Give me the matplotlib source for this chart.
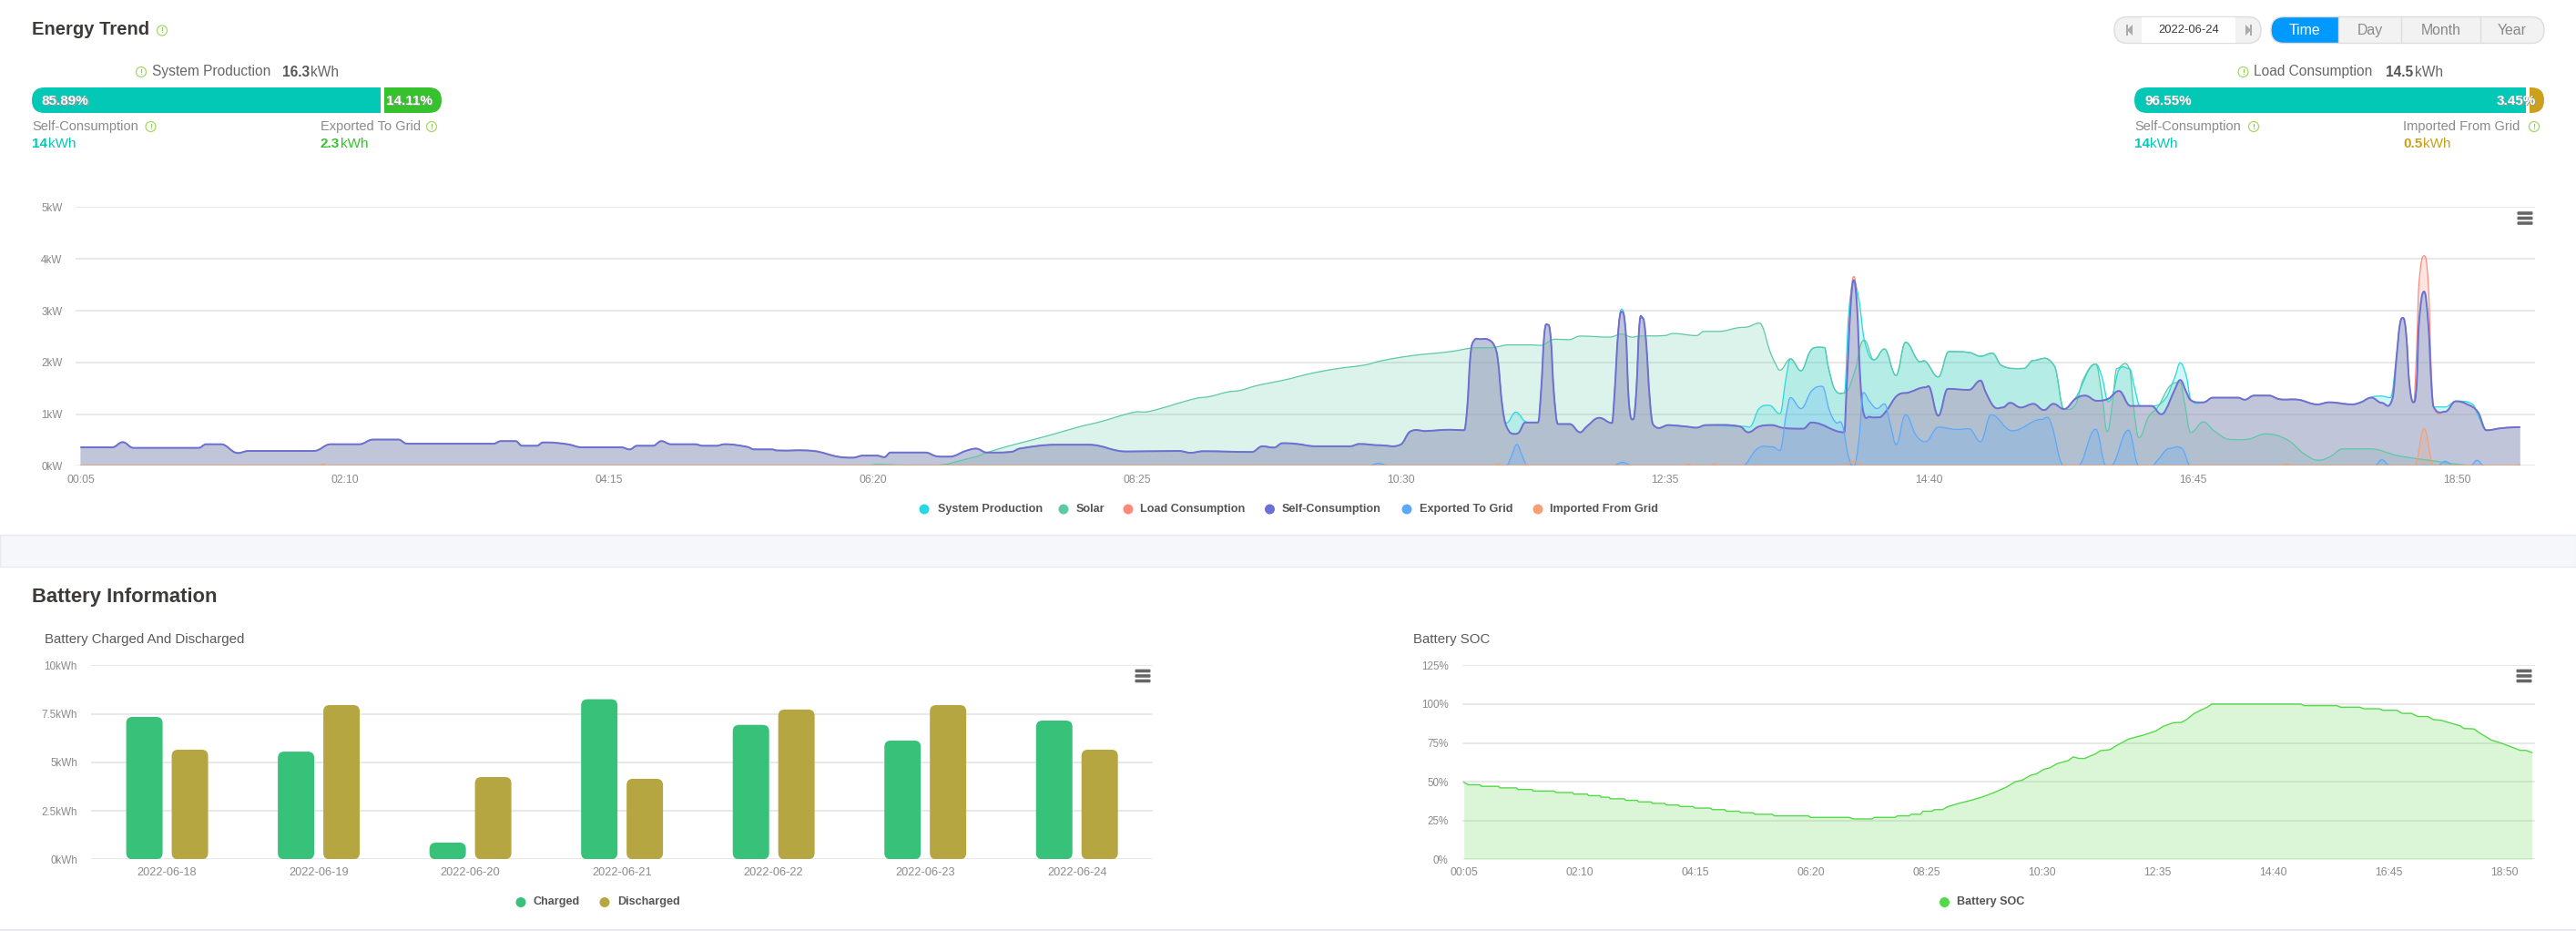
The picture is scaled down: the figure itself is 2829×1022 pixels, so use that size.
import matplotlib
matplotlib.use('Agg')
import matplotlib.pyplot as plt
from matplotlib.patches import Circle, FancyBboxPatch, PathPatch, Polygon, Rectangle
from matplotlib.path import Path

plt.rcParams['font.family'] = ['Liberation Sans', 'DejaVu Sans']

W, H = 2829, 1022

# one slot = 5 minutes, slot 0 = 00:05. (slot, kW)
self_pts = [(0,.36),(3,.36),(4,.46),(5,.35),(11.2,.35),(11.9,.42),(13.3,.42),(14.9,.25),(15.9,.29),(22.1,.29),
    (23.7,.42),(26.4,.42),(27.7,.51),(30.1,.51),(30.9,.43),(39.1,.43),(39.8,.48),(41.2,.48),(41.8,.39),(43.2,.39),
    (43.8,.455),(44.1,.455),(46.1,.42),(47.5,.36),(51.2,.36),(52,.32),(52.7,.39),(54.2,.39),(55,.48),(55.9,.42),
    (58.2,.42),(58.9,.39),(60.2,.39),(61,.42),(63.1,.37),(63.8,.32),(65.5,.32),(65.9,.30),(69.4,.29),(71.7,.18),
    (73.1,.16),(74.1,.20),(75.4,.20),(76.1,.17),(76.7,.26),(80,.26),(81,.19),(82.3,.18),(83.8,.29),(84.8,.335),
    (85.8,.26),(88.2,.275),(88.9,.335),(92.4,.41),(95.5,.41),(99,.28),(104,.29),(105.1,.255),(106.3,.285),(110.9,.27),
    (111.9,.38),(113,.355),(113.8,.44),(115,.43),(117,.38),(120.2,.38),(121.1,.425),(123.1,.40),(125,.415),(125.9,.665),
    (127.4,.675),(129.7,.70),(131,.69),(131.3,1.13),(131.6,2.13),(131.9,2.41),(132.5,2.45),(133.3,2.44),(133.9,2.31),
    (134.2,2.05),(134.6,1.19),(135,.77),(135.8,.62),(136.2,.65),(136.8,.84),(138,.84),(138.3,1.48),(138.6,2.55),
    (138.9,2.73),(139.2,2.49),(139.5,1.42),(139.9,.81),(141,.81),(142,.65),(142.6,.76),(143.8,.93),(145,.83),
    (145.2,1.245),(145.6,2.61),(145.9,2.98),(146.3,2.61),(146.6,1.245),(147,.90),(147.3,1.42),(147.6,2.73),(147.9,2.86),
    (148.2,2.49),(148.6,1.245),(148.9,.80),(150.4,.79),(152.1,.76),(153,.74),(153.9,.79),(157.1,.765),(157.9,.65),
    (158.9,.76),(160.1,.79),(161.2,.735),(163.1,.72),(163.9,.84),(167,.65),(167.2,1.42),(167.6,3.08),(167.9,3.59),
    (168.2,3.08),(168.5,1.72),(168.8,1.04),(169.4,.95),(170.3,.94),(171,1.07),(172,1.36),(173.1,1.42),(174.7,1.52),
    (175.1,1.51),(175.9,.97),(176.8,1.49),(178.8,1.47),(179.9,1.65),(180.4,1.42),(181.2,1.14),(182,1.13),(182.7,1.22),
    (183.7,1.13),(184.9,1.20),(185.9,1.08),(186.8,1.20),(187.8,1.10),(188.9,1.30),(189.8,1.36),(190.9,1.26),(192,1.30),
    (193,1.45),(194.1,1.16),(196.1,1.16),(197,1.0),(197.4,1.07),(198.3,1.48),(198.8,1.66),(199.4,1.42),(199.8,1.27),
    (201,1.23),(201.9,1.32),(204.3,1.32),(204.9,1.28),(205.8,1.36),(207.2,1.36),(208.2,1.29),(210,1.28),(211.8,1.19),
    (212.9,1.23),(215.1,1.19),(215.9,1.23),(216.9,1.32),(217.9,1.22),(218.9,1.30),(219.3,2.13),(219.6,2.73),(219.9,2.86),
    (220.2,2.55),(220.5,1.60),(220.9,1.23),(221.2,1.60),(221.4,2.73),(221.9,3.37),(222.3,2.73),(222.6,1.54),(222.8,1.14),
    (223.9,1.05),(224.9,1.25),(226,1.19),(227,1.04),(227.8,.69),(229.2,.73),(231,.75)]

solar_pts = [(0,0),(74,0),(75.5,.03),(77,.02),(80.5,.01),(84.8,.18),(85.7,.25),(87.8,.38),(88.9,.44),(91.7,.59),(94.8,.77),
    (96.3,.84),(99.8,1.04),(101.1,1.05),(105.5,1.30),(107,1.345),(108.6,1.43),(109.8,1.46),(111.3,1.55),(113,1.62),
    (114.6,1.69),(116.1,1.77),(118.8,1.875),(121.7,1.955),(123.1,2.03),(126,2.13),(129.7,2.21),(131.8,2.28),(133.8,2.29),
    (135.2,2.34),(137.5,2.34),(138.2,2.33),(139.6,2.45),(140.9,2.44),(142,2.51),(144.8,2.49),(145.9,2.55),(146.9,2.49),
    (147.6,2.51),(150,2.52),(150.8,2.56),(153,2.52),(153.7,2.60),(155.1,2.60),(156.9,2.67),(157.9,2.69),(158.9,2.76),
    (159.3,2.67),(159.9,2.25),(160.5,1.97),(160.9,1.85),(161.9,2.07),(162.9,1.84),(163.7,2.19),(164.1,2.28),(165.1,2.29),
    (165.5,1.90),(166.1,1.48),(167,1.41),(168.1,1.90),(168.5,2.31),(168.9,2.43),(169.8,2.05),(170.8,2.26),(171.9,1.75),
    (172.8,2.39),(174,2.03),(174.7,2.02),(175.9,1.72),(176.9,2.21),(178.9,2.19),(179.9,2.12),(181,2.18),(181.9,1.94),
    (184,1.885),(184.9,2.04),(186.9,1.93),(187.8,1.10),(188.9,1.19),(189.6,1.66),(190.8,1.97),(191.4,1.36),(191.9,.66),
    (192.4,1.24),(192.8,1.885),(194,1.88),(194.4,1.13),(194.9,.545),(195.8,.95),(196.7,1.14),(197.8,1.54),(198.8,1.61),
    (199.2,1.245),(199.8,.65),(201,.85),(202,.68),(203.6,.51),(205.3,.52),(206.9,.62),(209,.50),(210.5,.24),(211.9,.11),
    (213,.18),(214.2,.33),(216.8,.33),(219.4,.20),(223.1,.09),(226.3,.01),(231,0)]

exported_pts = [(0,0),(121.9,0),(122.9,.05),(123.9,0),(135,0),(135.5,.2),(136,.415),(136.5,.2),(137,0),(145,0),(146,.07),
    (147,0),(157.3,0),(158.8,.34),(160.2,.37),(160.9,.30),(161.5,1.0),(161.9,1.32),(162.9,1.11),(163.9,1.45),(164.9,1.54),
    (165.6,1.07),(166.2,.84),(166.8,.80),(167.4,.18),(167.9,0),(168.4,.53),(168.8,1.42),(169.4,1.245),(170.1,1.11),
    (170.8,1.20),(171.4,.77),(171.9,.415),(172.8,.99),(173.8,.59),(174.7,.47),(175.9,.75),(177.7,.705),(178.8,.72),
    (179.9,.47),(180.9,.99),(182.9,.68),(185.7,.90),(186.5,.87),(187.8,0),(189.1,0),(190.8,.71),(191.8,0),(192.2,0),
    (193.9,.69),(194.9,0),(196.1,0),(196.7,.12),(197.8,.34),(199,.33),(199.8,0),(217.2,0),(217.9,.12),(218.7,0),(223.1,0),
    (223.9,.09),(224.7,0),(226.3,0),(226.9,.11),(227.6,0),(231,0)]

imported_pts = [(0,.01),(22.5,.01),(23,.03),(23.5,.01),(133.7,.01),(134.2,.03),(134.7,.01),(136.3,.01),(136.8,.03),(137.3,.01),
    (151.8,.01),(152.3,.03),(152.8,.01),(154.2,.01),(154.7,.03),(155.2,.01),(167,.01),(167.9,.09),(168.8,.01),(208.4,.01),
    (208.9,.03),(209.4,.01),(221,.01),(221.9,.72),(222.8,.01),(230.8,.01),(231,.03)]

# load sits under self-consumption, except where grid import lifts it
load_pts = dict(self_pts)
for slot in (167.6, 167.9, 168.2, 221.4, 221.9, 222.3, 222.6):
    del load_pts[slot]
load_pts.update({167.6: 3.2, 167.9: 3.66, 168.2: 3.2, 221.2: 2.31, 221.4: 3.5, 221.9: 4.06, 222.3: 3.5, 222.6: 1.72})
load_pts = sorted(load_pts.items())

system_pts = [p for p in self_pts if p[0] < 134.9] + [(135,.83),(135.9,1.04),(136.8,.86)]
system_pts += [p for p in self_pts if 138 <= p[0] <= 145.6] + [(145.9,3.03)]
system_pts += [p for p in self_pts if 146 <= p[0] <= 157.1]
system_pts += [(157.6,.765),(158.2,.78),(158.9,1.10),(159.9,1.17),(160.9,1.01),(161.5,1.72),(161.9,2.07),(162.9,1.84),
    (163.7,2.19),(164.1,2.28),(165.1,2.29),(165.5,1.90),(166.1,1.48),(167,1.41),(167.4,2.9),(167.9,3.56),(168.4,3.2),
    (168.9,2.43),(169.8,2.05),(170.8,2.26),(171.9,1.75),(172.8,2.39),(174,2.03),(174.7,2.02),(175.9,1.72),(176.9,2.21),
    (178.9,2.19),(179.9,2.12),(181,2.18),(181.9,1.94),(184,1.885),(184.9,2.04),(186.9,1.93),(187.8,1.10),(188.9,1.32),
    (190.8,1.97),(191.4,1.72),(192,1.24),(192.5,1.45),(193,1.86),(194,1.88),(194.5,1.5),(195,1.16),(196.1,1.16),
    (197.4,1.3),(198.3,1.72),(198.8,1.99),(199.4,1.72),(199.8,1.29)]
system_pts += [p for p in self_pts if 201 <= p[0] <= 215.9]
system_pts += [(216.9,1.33),(217.9,1.35),(218.7,1.32)] + [p for p in self_pts if 219.3 <= p[0] <= 222.8]
system_pts += [(223.9,1.14),(224.9,1.25),(226.5,1.19),(227,.98),(227.8,.69),(229.2,.73),(231,.75)]

series = [('System Production', system_pts, '#26D9E0', 0.9),
          ('Solar', solar_pts, '#5CC9A7', 0.9),
          ('Load Consumption', load_pts, '#FF8A7A', 0.9),
          ('Self-Consumption', self_pts, '#6C70D4', 1.4),
          ('Exported To Grid', exported_pts, '#5AA9FF', 0.9),
          ('Imported From Grid', imported_pts, '#F7A072', 0.9)]

days = ['2022-06-18', '2022-06-19', '2022-06-20', '2022-06-21', '2022-06-22', '2022-06-23', '2022-06-24']
charged = [7.34, 5.55, 0.86, 8.25, 6.93, 6.12, 7.15]
discharged = [5.65, 7.95, 4.24, 4.15, 7.72, 7.95, 5.65]

soc_pts = [(0,49.6),(1,48),(3.5,48),(3.8,47),(7.5,47),(7.8,46),(11.4,46),(11.7,45),(14.7,45),(15,44),(19.5,44),(20,43),
    (23.5,43),(23.8,42),(26.7,42),(27,41),(29.4,41),(29.7,40),(31.4,40),(31.7,39),(34.7,39),(35,38),(37.5,38),(37.8,37),
    (40.5,37),(40.8,36),(43.5,36),(43.8,35),(46.4,35),(46.8,34),(49.5,34),(50,33),(53.3,33),(53.8,32),(56.4,32),(56.8,31),
    (59.5,31),(60,30),(62.5,30),(63,29),(66.7,29),(67.2,28),(74.5,28),(75,27),(83.4,27),(84.2,26),(88.3,26),(88.8,27),
    (93.3,27),(93.8,28),(96.3,28),(96.8,29),(98.8,29),(99.3,31),(101.3,31),(101.8,32),(103.5,32),(104.8,34),(107,36),
    (109.7,38),(112,40),(114.7,43),(117.5,46.7),(119.3,50),(120.8,51),(122.5,54),(123.8,55),(125.5,58),(126.8,59),
    (128.3,61.6),(130.8,63.7),(131.8,66),(133,65),(134.3,65),(136.7,68),(137.7,70),(139.7,70.6),(141.3,73.5),(143.8,77.5),
    (147,80),(149.7,82.7),(151.3,85.7),(153.5,88),(155.2,88.2),(156.3,90),(158,94),(159.7,96.5),(160.8,98),(161.8,100),
    (181,100),(181.8,99),(188.8,99),(189.7,98),(193.8,98),(194.7,97),(198,97),(198.8,96),(201.8,96),(203,94),(205,94),
    (206.3,92),(208.5,92),(209.7,90),(211.3,89.6),(215.5,86),(216.3,84.3),(218.5,84),(219.7,81.4),(222.2,76.9),(224.7,74.5),
    (228.5,70.2),(229.7,70.2),(230.8,69),(231,68.8)]

time_labels = ['00:05', '02:10', '04:15', '06:20', '08:25', '10:30', '12:35', '14:40', '16:45', '18:50']
time_ticks = [i * 25 for i in range(10)]

fig = plt.figure(figsize=(W / 100, H / 100), dpi=100, facecolor='white')


def make_axes(left, right, top, bottom):
    ax = fig.add_axes([left / W, 1 - bottom / H, (right - left) / W, (bottom - top) / H])
    ax.patch.set_alpha(0)
    for s in ax.spines.values():
        s.set_visible(False)
    ax.grid(axis='y', color='#E3E3E3', lw=1.1, zorder=0)
    ax.set_axisbelow(True)
    return ax


def style_ticks(ax, ypad, xpad, xsize=8.8):
    ax.tick_params(axis='y', length=0, pad=ypad, labelsize=8.4, labelcolor='#8A8A8A')
    ax.tick_params(axis='x', length=0, pad=xpad, labelsize=xsize, labelcolor='#8A8A8A')


def smooth_curve(pts):
    # bezier vertices through the read points, flat tangent at every local peak or dip
    xs = [p[0] for p in pts]
    ys = [p[1] for p in pts]
    slopes = [0.0] * len(pts)
    for i in range(1, len(pts) - 1):
        if (ys[i] - ys[i - 1]) * (ys[i + 1] - ys[i]) > 0:
            slopes[i] = (ys[i + 1] - ys[i - 1]) / (xs[i + 1] - xs[i - 1])
    verts = [pts[0]]
    for i in range(len(pts) - 1):
        dx = xs[i + 1] - xs[i]
        verts.append((xs[i] + dx * 0.4, ys[i] + slopes[i] * dx * 0.4))
        verts.append((xs[i + 1] - dx * 0.4, ys[i + 1] - slopes[i + 1] * dx * 0.4))
        verts.append(pts[i + 1])
    return verts


def draw_area(ax, pts, color, lw, alpha=0.22):
    verts = smooth_curve(pts)
    line_codes = [Path.MOVETO] + [Path.CURVE4] * (len(verts) - 1)
    fill_verts = [(pts[0][0], 0), verts[0]] + verts[1:] + [(pts[-1][0], 0), (pts[0][0], 0)]
    fill_codes = [Path.MOVETO, Path.LINETO] + [Path.CURVE4] * (len(verts) - 1) + [Path.LINETO, Path.CLOSEPOLY]
    ax.add_patch(PathPatch(Path(fill_verts, fill_codes), fc=color, ec='none', alpha=alpha, zorder=2))
    ax.add_patch(PathPatch(Path(verts, line_codes), fc='none', ec=color, lw=lw, zorder=3, joinstyle='round'))


# page background and text live on a full-figure axes in pixels
ui = fig.add_axes([0, 0, 1, 1], zorder=5)
ui.set_xlim(0, W)
ui.set_ylim(H, 0)
ui.axis('off')
ui.patch.set_alpha(0)
ui.add_patch(Rectangle((0, 587), W, 35, fc='#F5F7FA', ec='#E6EAF0', lw=1))
ui.add_patch(Rectangle((0, 1020), W, 3, fc='#E6EAF0', ec='none'))


def label(x, y, s, size=11, color='#666666', weight='normal', ha='left'):
    return ui.text(x, y, s, fontsize=size, color=color, fontweight=weight, ha=ha, va='center')


def info(x, y):
    ui.add_patch(Circle((x, y), 5.5, fc='white', ec='#A5D868', lw=0.9))
    ui.text(x, y, '!', fontsize=6.5, color='#8CC850', ha='center', va='center', fontweight='bold')


def value(x, y, num, color):
    t = label(x, y, num, 11, color, 'bold')
    bb = t.get_window_extent(fig.canvas.get_renderer())
    label(bb.x1 + 0.5, y, 'kWh', 11, color)


def hamburger(x, y):
    for dy in (-5.5, 0, 5.5):
        ui.add_patch(FancyBboxPatch((x - 8.5, y + dy - 1.8), 17, 3.6, boxstyle='round,pad=0,rounding_size=1', fc='#666666', ec='none'))


def clipped_pill(x0, x1, y0, y1, cut0, cut1, color, ec='none'):
    p = FancyBboxPatch((x0, y0), x1 - x0, y1 - y0, boxstyle='round,pad=0,rounding_size=%g' % ((y1 - y0) / 2), fc=color, ec=ec, lw=1)
    ui.add_patch(p)
    clip = Rectangle((cut0, y0 - 2), cut1 - cut0, y1 - y0 + 4, transform=ui.transData)
    p.set_clip_path(clip)


def share_bar(x0, x1, share, col_a, col_b, txt_a, txt_b, txt_b_x):
    split = x0 + (x1 - x0) * share / 100
    clipped_pill(x0, x1, 96, 124, x0 - 2, split - 4, col_a)
    clipped_pill(x0, x1, 96, 124, split, x1 + 2, col_b)
    for x, s in ((x0 + 11, txt_a), (txt_b_x, txt_b)):
        label(x + 1, 112.5, s, 11, '#9A9A9A', 'bold')
        label(x, 111, s, 11, 'white', 'bold')


label(35, 32, 'Energy Trend', 14.5, '#3E3A39', 'bold')
info(178, 33.5)
label(35, 656, 'Battery Information', 15.8, '#3E3A39', 'bold')
label(49, 702, 'Battery Charged And Discharged', 10.8, '#5A5A5A')
label(1552, 702, 'Battery SOC', 10.8, '#5A5A5A')

# production block
info(155, 79)
label(167, 79, 'System Production', 11.2)
label(310, 79, '16.3', 11.2, '#555555', 'bold')
label(341.5, 79, 'kWh', 11.2)
share_bar(35, 485, 85.89, '#03C8B6', '#36C22C', '85.89%', '14.11%', 424)
label(35, 139, 'Self-Consumption', 10.5, '#8A8A8A')
info(165.5, 139)
value(35, 158, '14', '#03C8B6')
label(352, 139, 'Exported To Grid', 10.5, '#8A8A8A')
info(474, 139)
value(352, 158, '2.3', '#36C22C')

# consumption block
info(2463.5, 79)
label(2475, 79, 'Load Consumption', 11.2)
label(2620, 79, '14.5', 11.2, '#555555', 'bold')
label(2652, 79, 'kWh', 11.2)
share_bar(2344, 2794, 96.55, '#03C8B6', '#CBA01C', '96.55%', '3.45%', 2742)
label(2344, 139, 'Self-Consumption', 10.5, '#8A8A8A')
info(2475, 139)
value(2344, 158, '14', '#03C8B6')
label(2639, 139, 'Imported From Grid', 10.5, '#8A8A8A')
info(2783, 139)
value(2639, 158, '0.5', '#CBA01C')

# date picker
ui.add_patch(FancyBboxPatch((2322, 18.5), 161, 29, boxstyle='round,pad=0,rounding_size=14.5', fc='#F2F2F2', ec='#DDDDDD', lw=1))
ui.add_patch(Rectangle((2352, 19), 103, 28, fc='white', ec='none'))
label(2403.5, 33.5, '2022-06-24', 9.4, '#3E3A39', ha='center')
for x, d in ((2339, -1), (2469, 1)):
    ui.add_patch(Polygon([(x - d * 3, 27), (x - d * 3, 39), (x + d * 3, 33)], fc='#AAAAAA', ec='none'))
    ui.add_patch(Rectangle((x + d * 3 - 1, 27), 2, 12, fc='#AAAAAA', ec='none'))

# period switch
edges = [2494, 2568, 2637, 2724, 2794]
names = ['Time', 'Day', 'Month', 'Year']
for i, name in enumerate(names):
    color = '#0099FF' if i == 0 else '#F2F2F2'
    clipped_pill(2494, 2794, 18.5, 47.5, edges[i], edges[i + 1], color)
    label((edges[i] + edges[i + 1]) / 2, 33.5, name, 11.4, 'white' if i == 0 else '#888888', ha='center')
    if i:
        ui.plot([edges[i], edges[i]], [18.5, 47.5], color='#DDDDDD', lw=1)
ui.add_patch(FancyBboxPatch((2494, 18.5), 300, 29, boxstyle='round,pad=0,rounding_size=14.5', fc='none', ec='#DDDDDD', lw=1))

hamburger(2773, 239.5)
hamburger(1255, 742)
hamburger(2772, 742)

# legends
def legend_row(items, y):
    for mx, tx, name, color in items:
        ui.add_patch(Circle((mx, y), 5.5, fc=color, ec='none'))
        ui.text(tx, y, name, fontsize=9.1, color='#555555', fontweight='bold', ha='left', va='center')


legend_row([(1015, 1029.5, 'System Production', '#26D9E0'), (1168, 1182, 'Solar', '#5CC9A7'),
            (1239, 1252.5, 'Load Consumption', '#FF8A7A'), (1394.5, 1407.5, 'Self-Consumption', '#6C70D4'),
            (1545, 1559, 'Exported To Grid', '#5AA9FF'), (1689, 1702.5, 'Imported From Grid', '#F7A072')], 559)
legend_row([(572, 586, 'Charged', '#38C179'), (664, 678, 'Discharged', '#B5A642')], 990.5)
legend_row([(2135.5, 2149, 'Battery SOC', '#52D946')], 990.5)

# main power chart
ax = make_axes(83, 2784, 227.5, 511.5)
for name, pts, color, lw in series:
    draw_area(ax, pts, color, lw)
ax.set_xlim(-0.466, 232.4)
ax.set_ylim(0, 5)
ax.set_yticks(range(6))
ax.set_yticklabels(['%dkW' % v for v in range(6)])
ax.set_xticks(time_ticks)
ax.set_xticklabels(time_labels)
style_ticks(ax, 10.5, 6.5)

# charged / discharged bars, drawn with rounded corners
ax2 = make_axes(100.3, 1266, 730.3, 943.3)
ax2.set_xlim(-0.5, 6.5)
ax2.set_ylim(0, 10)
unit_x, unit_y = 166.5, 21.3
bar_w = 0.24
for i in range(len(days)):
    for off, v, color in ((-0.27, charged[i], '#38C179'), (0.03, discharged[i], '#B5A642')):
        ax2.add_patch(FancyBboxPatch((i + off, 0), bar_w, v, boxstyle='round,pad=0,rounding_size=%g' % (7 / unit_x),
                                     mutation_aspect=unit_x / unit_y, fc=color, ec='none', zorder=3))
ax2.set_yticks([0, 2.5, 5, 7.5, 10])
ax2.set_yticklabels(['0kWh', '2.5kWh', '5kWh', '7.5kWh', '10kWh'])
ax2.set_xticks(range(len(days)))
ax2.set_xticklabels(days)
style_ticks(ax2, 11, 6.5, 9.2)

# state of charge
ax3 = make_axes(1606, 2784, 730.3, 943.3)
xs = [p[0] for p in soc_pts]
ys = [p[1] for p in soc_pts]
ax3.fill_between(xs, 0, ys, color='#52D946', alpha=0.21, lw=0, zorder=2)
ax3.plot(xs, ys, color='#52D946', lw=1, zorder=3)
ax3.set_xlim(-0.32, 231.7)
ax3.set_ylim(0, 125)
ax3.set_yticks([0, 25, 50, 75, 100, 125])
ax3.set_yticklabels(['%d%%' % v for v in (0, 25, 50, 75, 100, 125)])
ax3.set_xticks(time_ticks)
ax3.set_xticklabels(time_labels)
style_ticks(ax3, 11, 6.5)

fig.savefig('out.png', dpi=100)
